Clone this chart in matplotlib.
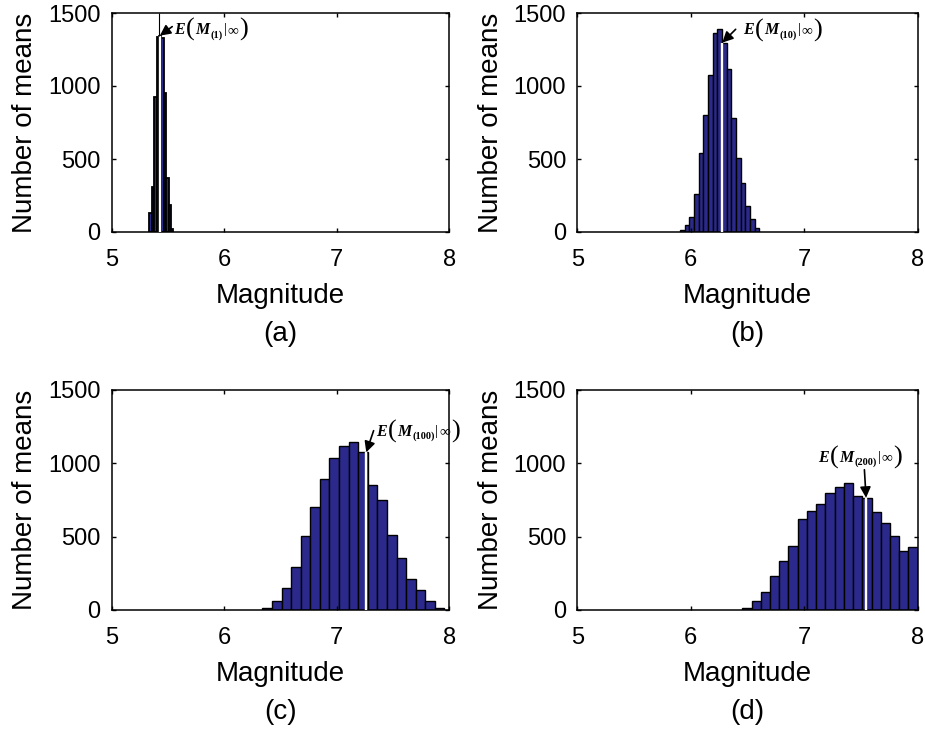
import matplotlib.pyplot as plt
from matplotlib.transforms import offset_copy
import numpy as np

plt.rcParams['font.family'] = ['Liberation Sans', 'DejaVu Sans']

# panel tags and sample sizes in the annotation
panel_tags = ['(a)', '(b)', '(c)', '(d)']
sample_sizes = ['1', '10', '100', '200']

# first and last bin edge of each histogram
bin_range_a = [5.334, 5.548]
bin_range_b = [5.905, 6.604]
bin_range_c = [6.339, 7.957]
bin_range_d = [6.454, 8.000]

# number of means per bin
counts_a = [128, 310, 927, 1338, 1345, 1327, 950, 370, 185, 20]
counts_b = [14, 48, 105, 258, 543, 801, 1075, 1361, 1388, 1297, 1116, 779,
            505, 338, 178, 87, 25]
counts_c = [11, 61, 148, 295, 505, 700, 891, 1034, 1118, 1148, 1075, 852,
            750, 511, 352, 209, 136, 61, 16]
counts_d = [11, 61, 125, 232, 336, 439, 618, 677, 723, 800, 836, 864, 777,
            765, 670, 595, 505, 402, 427]

# expected magnitude E(M(n)|inf)
expected = [5.428, 6.278, 7.262, 7.545]

bin_ranges = [bin_range_a, bin_range_b, bin_range_c, bin_range_d]
all_counts = [counts_a, counts_b, counts_c, counts_d]

W, H = 925, 733
fig = plt.figure(figsize=(W / 100, H / 100), dpi=100)
renderer = fig.canvas.get_renderer()

# axes boxes in pixels: left, top, right, bottom
boxes = [(111.7, 13, 449.3, 232), (577.3, 13, 917.7, 232),
         (111.7, 390, 449.3, 610), (577.3, 390, 917.7, 610)]

# arrow tail and label position (points, relative to the arrow tip)
arrow_tails = [(8.9, 6.5), (9.6, 9.6), (5.3, 15.6), (-1.2, 20.2)]
label_pos = [(10.6, 4.8), (15.1, 9.6), (7.0, 15.6), (-4.1, 29.5)]
label_centered = [False, False, False, True]

navy = '#2b2a8c'
serif = ['Liberation Serif', 'DejaVu Serif']


def label_pieces(n):
    # text, size, style, weight, baseline shift (points)
    return [('E', 11.5, 'italic', 'bold', 0),
            ('(', 19, 'normal', 'normal', -1.5),
            ('M', 11.5, 'italic', 'bold', 0),
            ('(' + n + ')', 7.5, 'normal', 'bold', -2.5),
            ('|', 10, 'normal', 'normal', 0.5),
            ('\u221e', 11, 'normal', 'normal', 0),
            (')', 19, 'normal', 'normal', -1.5)]


def draw_label(ax, x, y, dx, dy, n, centered):
    pieces = label_pieces(n)
    texts = []
    pos = 0.0
    for s, size, style, weight, shift in pieces:
        tr = offset_copy(ax.transData, fig=fig, x=dx + pos, y=dy + shift - 3.5,
                         units='points')
        t = ax.text(x, y, s, transform=tr, fontsize=size, fontstyle=style,
                    fontweight=weight, family=serif, ha='left', va='baseline',
                    clip_on=False)
        texts.append((t, dx + pos, dy + shift - 3.5))
        pos += t.get_window_extent(renderer).width * 72 / fig.dpi + 0.6
    if centered:
        for t, px, py in texts:
            t.set_transform(offset_copy(ax.transData, fig=fig, x=px - pos / 2,
                                        y=py, units='points'))


for i in range(4):
    l, t, r, b = boxes[i]
    ax = fig.add_axes([l / W, (H - b) / H, (r - l) / W, (b - t) / H])

    counts = np.array(all_counts[i])
    edges = np.linspace(bin_ranges[i][0], bin_ranges[i][1], len(counts) + 1)
    ax.bar(edges[:-1], counts, width=np.diff(edges), align='edge',
           color=navy, edgecolor='black', linewidth=1.3 if i == 0 else 1.0)

    # white marker line at the expected value
    e = expected[i]
    k = np.searchsorted(edges, e) - 1
    h = counts[k]
    ax.vlines(e, 0, h, color='white', linewidth=1.7, zorder=3)
    if i == 0:
        ax.vlines(e - 0.004, h, 1500, color='black', linewidth=0.8, zorder=3)

    ax.annotate('', xy=(e, h), xytext=arrow_tails[i],
                textcoords='offset points',
                arrowprops=dict(arrowstyle='-|>', color='black', lw=1.2,
                                mutation_scale=16, shrinkA=0, shrinkB=0))
    draw_label(ax, e, h, label_pos[i][0], label_pos[i][1], sample_sizes[i],
               label_centered[i])

    ax.set_xlim(5, 8)
    ax.set_ylim(0, 1500)
    ax.set_xticks([5, 6, 7, 8])
    ax.set_yticks([0, 500, 1000, 1500])
    ax.tick_params(direction='in', top=True, right=True, length=3, width=1,
                   labelsize=17)
    ax.tick_params(axis='x', pad=12)
    ax.tick_params(axis='y', pad=8)
    for s in ax.spines.values():
        s.set_linewidth(1.1)

    ax.set_xlabel('Magnitude', fontsize=20, labelpad=9)
    ax.set_ylabel('Number of means', fontsize=20, labelpad=7)
    ax.text(0.5, -0.465, panel_tags[i], transform=ax.transAxes,
            ha='center', va='center', fontsize=20)

fig.savefig('out.png', dpi=100)
